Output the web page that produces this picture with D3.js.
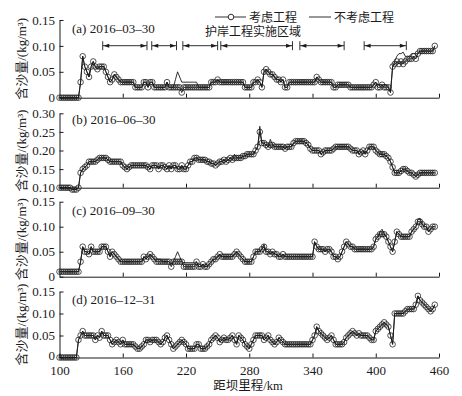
<!DOCTYPE html>
<html><head><meta charset="utf-8">
<script src="https://cdn.jsdelivr.net/npm/d3@7"></script>
<style>
html,body{margin:0;padding:0;background:#fff;}
text{font-family:"Liberation Serif","Times New Roman","Noto Sans CJK SC",serif;fill:#1a1a1a;}
</style></head>
<body><svg id="chart" width="462" height="396"></svg>
<script>
// ---- data ----
const km = d3.range(100, 457, 2); // stations, 100..456 km
const xTicks = [100, 160, 220, 280, 340, 400, 460];
const seriesNames = ["考虑工程", "不考虑工程"];
const panelLabels = ["(a) 2016–03–30", "(b) 2016–06–30", "(c) 2016–09–30", "(d) 2016–12–31"];
const protectStart = [141, 187.5, 217, 253, 328, 389];
const protectEnd = [183, 211, 250, 321, 370, 429];
const protectLabel = "护岸工程实施区域";
const yTicksA = [0, 0.05, 0.10, 0.15];
const yTicksB = [0.10, 0.15, 0.20, 0.25, 0.30];

const aWith = [
0,0,0,0,0, 0,0,0,0,0, 0.03,0.08,0.06,0.05,0.04, 0.06,0.07,0.06,0.055,0.06,
0.06,0.06,0.05,0.04,0.03, 0.035,0.045,0.04,0.035,0.03, 0.03,0.03,0.03,0.03,0.03, 0.03,0.02,0.02,0.02,0.02,
0.03,0.03,0.02,0.03,0.03, 0.02,0.02,0.02,0.02,0.02, 0.02,0.03,0.02,0.02,0.02, 0.02,0.02,0.02,0.01,0.02,
0.02,0.02,0.02,0.02,0.02, 0.02,0.02,0.02,0.02,0.02, 0.02,0.02,0.03,0.03,0.03, 0.035,0.03,0.03,0.03,0.03,
0.03,0.03,0.03,0.03,0.03, 0.03,0.03,0.03,0.02,0.02, 0.02,0.02,0.03,0.03,0.035, 0.03,0.02,0.05,0.055,0.05,
0.045,0.045,0.04,0.035,0.035, 0.03,0.035,0.02,0.02,0.03, 0.03,0.03,0.03,0.03,0.03, 0.03,0.03,0.03,0.03,0.03,
0.03,0.03,0.04,0.035,0.03, 0.03,0.03,0.03,0.03,0.03, 0.02,0.02,0.025,0.025,0.025, 0.025,0.025,0.025,0.02,0.02,
0.02,0.02,0.02,0.02,0.02, 0.02,0.02,0.02,0.02,0.025, 0.03,0.02,0.02,0.025,0.02, 0.02,0.02,0.01,0.06,0.065,
0.07,0.065,0.07,0.065,0.07, 0.075,0.075,0.075,0.08,0.075, 0.085,0.09,0.09,0.09,0.09, 0.09,0.09,0.09,0.10];
const aWithout = [
0,0,0,0,0, 0,0,0,0,0, 0.03,0.08,0.06,0.05,0.04, 0.06,0.07,0.06,0.055,0.06,
0.06,0.06,0.05,0.04,0.03, 0.035,0.045,0.04,0.035,0.03, 0.03,0.03,0.03,0.03,0.03, 0.03,0.02,0.02,0.02,0.02,
0.03,0.03,0.02,0.03,0.03, 0.02,0.02,0.02,0.02,0.02, 0.02,0.03,0.02,0.02,0.02, 0.035,0.05,0.04,0.03,0.03,
0.03,0.03,0.03,0.03,0.03, 0.03,0.02,0.02,0.02,0.02, 0.02,0.02,0.03,0.03,0.03, 0.035,0.03,0.03,0.03,0.03,
0.03,0.03,0.03,0.03,0.03, 0.03,0.03,0.03,0.02,0.02, 0.02,0.02,0.03,0.03,0.035, 0.03,0.02,0.05,0.055,0.05,
0.045,0.045,0.04,0.035,0.035, 0.03,0.035,0.02,0.02,0.03, 0.03,0.03,0.03,0.03,0.03, 0.03,0.03,0.03,0.03,0.03,
0.03,0.03,0.04,0.035,0.03, 0.03,0.03,0.03,0.03,0.03, 0.02,0.02,0.025,0.025,0.025, 0.025,0.025,0.025,0.02,0.02,
0.02,0.02,0.02,0.02,0.02, 0.02,0.02,0.02,0.02,0.025, 0.03,0.025,0.025,0.025,0.025, 0.025,0.02,0.01,0.06,0.07,
0.08,0.085,0.085,0.088,0.08, 0.078,0.08,0.085,0.085,0.085, 0.085,0.09,0.09,0.09,0.09, 0.09,0.09,0.09,0.10];

const bWith = [
0.10,0.10,0.10,0.10,0.10, 0.10,0.095,0.095,0.095,0.10, 0.14,0.15,0.155,0.16,0.17, 0.17,0.17,0.17,0.175,0.18,
0.18,0.18,0.18,0.175,0.17, 0.17,0.17,0.17,0.17,0.17, 0.16,0.155,0.15,0.155,0.16, 0.16,0.16,0.16,0.16,0.16,
0.16,0.16,0.155,0.15,0.16, 0.16,0.16,0.15,0.16,0.16, 0.155,0.15,0.16,0.15,0.16, 0.16,0.15,0.15,0.16,0.15,
0.15,0.16,0.17,0.17,0.18, 0.18,0.175,0.175,0.175,0.175, 0.17,0.17,0.165,0.165,0.16, 0.165,0.17,0.17,0.175,0.17,
0.175,0.18,0.175,0.18,0.18, 0.18,0.18,0.185,0.185,0.19, 0.19,0.19,0.19,0.20,0.21, 0.25,0.22,0.22,0.215,0.21,
0.215,0.215,0.21,0.21,0.21, 0.21,0.21,0.205,0.21,0.21, 0.21,0.22,0.225,0.225,0.225, 0.225,0.225,0.22,0.215,0.205,
0.20,0.20,0.20,0.20,0.19, 0.195,0.20,0.20,0.20,0.20, 0.205,0.21,0.21,0.21,0.21, 0.21,0.21,0.21,0.205,0.20,
0.20,0.20,0.19,0.195,0.20, 0.19,0.20,0.21,0.21,0.21, 0.20,0.195,0.19,0.19,0.19, 0.185,0.18,0.17,0.155,0.14,
0.14,0.14,0.145,0.15,0.15, 0.145,0.14,0.14,0.135,0.13, 0.135,0.14,0.14,0.14,0.14, 0.14,0.14,0.14,0.14];
const bWithout = [
0.10,0.10,0.10,0.10,0.10, 0.10,0.095,0.095,0.095,0.10, 0.14,0.15,0.155,0.16,0.17, 0.17,0.17,0.17,0.175,0.18,
0.18,0.18,0.18,0.175,0.17, 0.17,0.17,0.17,0.17,0.17, 0.16,0.155,0.15,0.155,0.16, 0.16,0.16,0.16,0.16,0.16,
0.16,0.16,0.155,0.15,0.16, 0.16,0.16,0.15,0.16,0.16, 0.155,0.15,0.16,0.15,0.16, 0.16,0.15,0.15,0.16,0.15,
0.15,0.16,0.17,0.17,0.18, 0.18,0.175,0.175,0.175,0.175, 0.17,0.17,0.165,0.165,0.16, 0.165,0.17,0.17,0.175,0.17,
0.175,0.18,0.175,0.19,0.18, 0.18,0.18,0.185,0.185,0.19, 0.19,0.19,0.19,0.20,0.21, 0.265,0.22,0.22,0.215,0.21,
0.23,0.215,0.21,0.21,0.21, 0.21,0.21,0.205,0.21,0.21, 0.21,0.22,0.225,0.225,0.225, 0.225,0.225,0.22,0.215,0.205,
0.20,0.20,0.20,0.20,0.19, 0.195,0.20,0.20,0.20,0.20, 0.205,0.21,0.21,0.21,0.21, 0.21,0.21,0.21,0.205,0.20,
0.20,0.20,0.19,0.195,0.20, 0.19,0.20,0.21,0.21,0.21, 0.20,0.195,0.19,0.19,0.19, 0.185,0.18,0.17,0.155,0.14,
0.14,0.14,0.145,0.15,0.15, 0.145,0.14,0.14,0.135,0.13, 0.135,0.14,0.14,0.14,0.14, 0.14,0.14,0.14,0.14];

const cWith = [
0.01,0.01,0.01,0.01,0.01, 0.01,0.01,0.01,0.01,0.01, 0.03,0.06,0.05,0.05,0.045, 0.06,0.05,0.05,0.05,0.05,
0.06,0.06,0.06,0.05,0.04, 0.05,0.045,0.04,0.035,0.03, 0.03,0.03,0.03,0.03,0.03, 0.03,0.03,0.03,0.03,0.03,
0.04,0.035,0.04,0.045,0.04, 0.035,0.03,0.03,0.03,0.03, 0.03,0.03,0.03,0.02,0.03, 0.03,0.03,0.03,0.03,0.02,
0.02,0.02,0.02,0.02,0.02, 0.03,0.02,0.02,0.025,0.02, 0.02,0.025,0.03,0.035,0.035, 0.04,0.045,0.04,0.04,0.04,
0.04,0.04,0.04,0.045,0.05, 0.045,0.04,0.035,0.03,0.03, 0.03,0.03,0.04,0.05,0.05, 0.05,0.055,0.06,0.05,0.05,
0.045,0.05,0.045,0.045,0.04, 0.04,0.045,0.04,0.04,0.04, 0.04,0.04,0.04,0.04,0.04, 0.04,0.04,0.04,0.04,0.04,
0.04,0.07,0.06,0.055,0.055, 0.055,0.05,0.055,0.055,0.05, 0.04,0.04,0.035,0.04,0.05, 0.06,0.07,0.065,0.06,0.06,
0.055,0.055,0.055,0.055,0.055, 0.055,0.055,0.055,0.055,0.06, 0.075,0.08,0.085,0.085,0.085, 0.08,0.07,0.06,0.05,0.07,
0.09,0.085,0.08,0.08,0.08, 0.08,0.08,0.09,0.095,0.10, 0.11,0.11,0.105,0.10,0.10, 0.09,0.095,0.10,0.10];
const cWithout = [
0.01,0.01,0.01,0.01,0.01, 0.01,0.01,0.01,0.01,0.01, 0.03,0.06,0.05,0.05,0.045, 0.06,0.05,0.05,0.05,0.05,
0.06,0.06,0.06,0.05,0.04, 0.05,0.045,0.04,0.035,0.03, 0.03,0.03,0.03,0.03,0.03, 0.03,0.03,0.03,0.03,0.03,
0.04,0.035,0.04,0.045,0.04, 0.035,0.035,0.035,0.035,0.03, 0.03,0.03,0.03,0.025,0.03, 0.04,0.05,0.04,0.03,0.028,
0.028,0.028,0.028,0.028,0.028, 0.03,0.02,0.02,0.025,0.02, 0.02,0.025,0.03,0.035,0.035, 0.04,0.045,0.04,0.04,0.04,
0.04,0.04,0.04,0.045,0.05, 0.045,0.04,0.035,0.03,0.03, 0.03,0.03,0.04,0.05,0.05, 0.05,0.055,0.065,0.05,0.05,
0.045,0.05,0.045,0.045,0.04, 0.04,0.045,0.04,0.04,0.04, 0.04,0.04,0.04,0.04,0.04, 0.04,0.04,0.04,0.04,0.04,
0.04,0.07,0.06,0.055,0.055, 0.055,0.05,0.055,0.055,0.05, 0.04,0.04,0.035,0.04,0.05, 0.06,0.07,0.065,0.06,0.06,
0.055,0.055,0.055,0.055,0.055, 0.055,0.055,0.055,0.055,0.06, 0.075,0.08,0.09,0.095,0.085, 0.08,0.07,0.06,0.05,0.07,
0.09,0.085,0.08,0.08,0.08, 0.08,0.08,0.09,0.095,0.10, 0.115,0.117,0.105,0.10,0.10, 0.09,0.095,0.10,0.10];

const dWith = [
0,0,0,0,0, 0,0,0,0,0.04, 0.05,0.06,0.05,0.05,0.05, 0.05,0.05,0.04,0.05,0.045,
0.06,0.05,0.05,0.05,0.04, 0.03,0.035,0.04,0.035,0.03, 0.04,0.03,0.03,0.03,0.03, 0.03,0.025,0.02,0.02,0.025,
0.03,0.04,0.04,0.035,0.04, 0.04,0.04,0.035,0.03,0.035, 0.045,0.05,0.04,0.03,0.02, 0.025,0.03,0.035,0.04,0.035,
0.03,0.02,0.02,0.02,0.02, 0.03,0.03,0.02,0.02,0.02, 0.025,0.03,0.04,0.045,0.05, 0.045,0.035,0.04,0.045,0.04,
0.04,0.045,0.05,0.04,0.03, 0.05,0.045,0.04,0.03,0.025, 0.02,0.03,0.04,0.05,0.05, 0.05,0.05,0.04,0.045,0.05,
0.04,0.035,0.03,0.035,0.045, 0.04,0.035,0.03,0.03,0.03, 0.03,0.03,0.03,0.03,0.03, 0.03,0.03,0.03,0.03,0.03,
0.04,0.05,0.07,0.06,0.055, 0.05,0.045,0.04,0.045,0.05, 0.04,0.03,0.03,0.03,0.03, 0.035,0.045,0.05,0.055,0.06,
0.055,0.05,0.055,0.05,0.05, 0.05,0.05,0.045,0.04,0.04, 0.06,0.065,0.07,0.075,0.08, 0.075,0.07,0.05,0.03,0.10,
0.10,0.10,0.10,0.10,0.105, 0.11,0.11,0.11,0.11,0.12, 0.14,0.13,0.125,0.12,0.115, 0.11,0.105,0.11,0.12];
const dWithout = [
0,0,0,0,0, 0,0,0,0,0.04, 0.05,0.06,0.05,0.05,0.05, 0.05,0.05,0.04,0.05,0.045,
0.06,0.05,0.05,0.05,0.04, 0.03,0.035,0.04,0.035,0.03, 0.04,0.03,0.03,0.03,0.03, 0.03,0.025,0.02,0.02,0.025,
0.03,0.04,0.04,0.035,0.04, 0.04,0.04,0.035,0.03,0.035, 0.045,0.05,0.04,0.03,0.02, 0.025,0.03,0.035,0.04,0.035,
0.03,0.02,0.02,0.02,0.02, 0.03,0.03,0.02,0.02,0.02, 0.025,0.03,0.04,0.045,0.05, 0.045,0.035,0.04,0.045,0.04,
0.04,0.045,0.05,0.04,0.03, 0.05,0.045,0.04,0.03,0.025, 0.02,0.03,0.04,0.05,0.05, 0.05,0.05,0.04,0.045,0.05,
0.04,0.035,0.03,0.035,0.045, 0.04,0.035,0.03,0.03,0.03, 0.03,0.03,0.03,0.03,0.03, 0.03,0.03,0.03,0.03,0.03,
0.04,0.05,0.07,0.06,0.055, 0.05,0.045,0.04,0.045,0.05, 0.04,0.03,0.03,0.03,0.03, 0.035,0.045,0.05,0.055,0.06,
0.055,0.05,0.055,0.05,0.05, 0.05,0.05,0.045,0.04,0.04, 0.06,0.065,0.07,0.075,0.08, 0.075,0.07,0.05,0.03,0.10,
0.10,0.10,0.10,0.10,0.105, 0.11,0.11,0.11,0.11,0.12, 0.14,0.13,0.125,0.12,0.115, 0.11,0.105,0.11,0.12];

// ---- layout ----
const ink = "#1a1a1a";
const svg = d3.select("#chart");
const x = d3.scaleLinear().domain([100, 460]).range([59.5, 439]);
const panels = [
  {top: 20, bottom: 97.7, dom: [0, 0.15], ticks: yTicksA, w: aWith, wo: aWithout, lab: panelLabels[0], ly: 9.5},
  {top: 113.3, bottom: 187.7, dom: [0.10, 0.30], ticks: yTicksB, w: bWith, wo: bWithout, lab: panelLabels[1], ly: 8},
  {top: 201.7, bottom: 276.7, dom: [0, 0.15], ticks: yTicksA, w: cWith, wo: cWithout, lab: panelLabels[2], ly: 10.5},
  {top: 291.5, bottom: 357.5, dom: [0, 0.15], ticks: yTicksA, w: dWith, wo: dWithout, lab: panelLabels[3], ly: 9.5}
];
const fmt = d => d === 0 ? "0" : d3.format(".2f")(d);

panels.forEach((p, i) => {
  const y = d3.scaleLinear().domain(p.dom).range([p.bottom, p.top]);
  const last = i === 3;
  // y axis
  const ga = svg.append("g").attr("transform", `translate(${x(100)},0)`)
    .call(d3.axisLeft(y).tickValues(p.ticks).tickSizeInner(-4).tickSizeOuter(0).tickPadding(4.5).tickFormat(fmt));
  ga.selectAll("text").style("font-size", "13px").attr("fill", ink);
  if (last) ga.selectAll("text").filter(d => d === 0).attr("dy", "0.16em");
  ga.selectAll("line,path").attr("stroke", ink);
  // x axis
  const gx = svg.append("g").attr("transform", `translate(0,${p.bottom})`)
    .call(d3.axisBottom(x).tickValues(last ? xTicks : xTicks.slice(1)).tickSizeInner(-4).tickSizeOuter(0).tickPadding(8)
      .tickFormat(last ? d3.format("d") : () => ""));
  gx.selectAll("text").style("font-size", "13px").attr("fill", ink);
  gx.selectAll("line,path").attr("stroke", ink);
  // y title
  svg.append("text")
    .attr("transform", `translate(26,${(p.top + p.bottom) / 2}) rotate(-90)`)
    .attr("text-anchor", "middle").style("font-size", "13px")
    .text("含沙量/(kg/m³)");
  // panel label
  svg.append("text").attr("x", 72).attr("y", p.top + p.ly + 3)
    .style("font-size", "13px").text(p.lab);
  // data
  const line = d3.line().x((d, j) => x(km[j])).y(d => y(d));
  svg.append("path").datum(p.wo).attr("d", line)
    .attr("fill", "none").attr("stroke", ink).attr("stroke-width", 0.9);
  svg.append("path").datum(p.w).attr("d", line)
    .attr("fill", "none").attr("stroke", ink).attr("stroke-width", 0.9);
  svg.append("g").selectAll("circle").data(p.w).join("circle")
    .attr("cx", (d, j) => x(km[j])).attr("cy", d => y(d)).attr("r", 2.8)
    .attr("fill", "none").attr("stroke", ink).attr("stroke-width", 0.75);
});

// x axis title
svg.append("text").attr("x", 248).attr("y", 390).attr("text-anchor", "middle")
  .style("font-size", "12.5px").text("距坝里程/km");

// legend
const lg = svg.append("g");
lg.append("line").attr("x1", 215).attr("x2", 246).attr("y1", 17).attr("y2", 17).attr("stroke", ink).attr("stroke-width", 0.9);
lg.append("circle").attr("cx", 231).attr("cy", 17).attr("r", 2.8).attr("fill", "#fff").attr("stroke", ink).attr("stroke-width", 0.9);
lg.append("text").attr("x", 249).attr("y", 21.5).style("font-size", "12px").text(seriesNames[0]);
lg.append("line").attr("x1", 309).attr("x2", 331).attr("y1", 17).attr("y2", 17).attr("stroke", ink).attr("stroke-width", 0.9);
lg.append("text").attr("x", 334).attr("y", 21.5).style("font-size", "12px").text(seriesNames[1]);

// protection region annotation
svg.append("text").attr("x", 205).attr("y", 36).style("font-size", "12px").text(protectLabel);
const ay = 45.7;
const ag = svg.append("g");
protectStart.forEach((s, i) => {
  const x0 = x(s), x1 = x(protectEnd[i]);
  ag.append("line").attr("x1", x0).attr("x2", x1).attr("y1", ay).attr("y2", ay).attr("stroke", ink).attr("stroke-width", 0.9);
  [x0, x1].forEach(xx => ag.append("line").attr("x1", xx).attr("x2", xx).attr("y1", ay - 4.5).attr("y2", ay + 4.5).attr("stroke", ink).attr("stroke-width", 0.9));
  ag.append("path").attr("d", `M${x0 + 0.8},${ay}L${x0 + 6.5},${ay - 2}L${x0 + 6.5},${ay + 2}Z`).attr("fill", ink);
  ag.append("path").attr("d", `M${x1 - 0.8},${ay}L${x1 - 6.5},${ay - 2}L${x1 - 6.5},${ay + 2}Z`).attr("fill", ink);
});
</script></body></html>
